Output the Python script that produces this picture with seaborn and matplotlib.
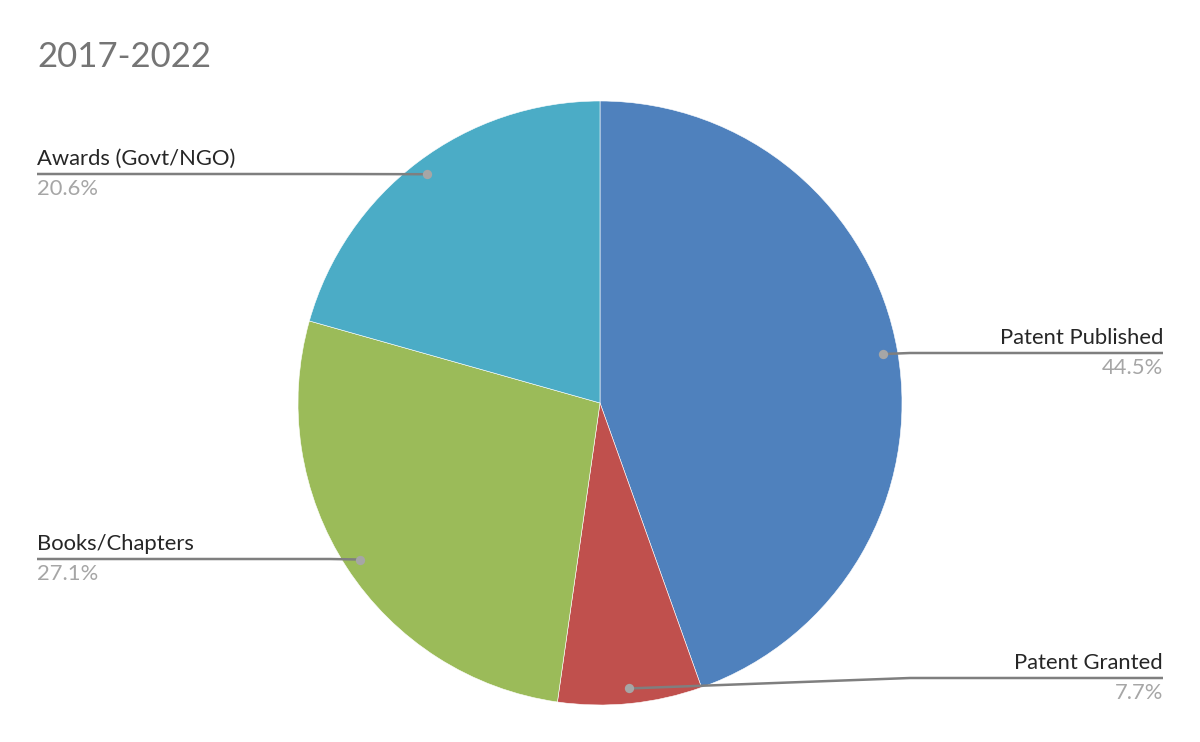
import numpy as np
import matplotlib.pyplot as plt
import seaborn as sns

# data
categories = ["Patent Published", "Patent Granted", "Books/Chapters", "Awards (Govt/NGO)"]
shares = [44.5, 7.7, 27.1, 20.6]
colors = ["#4F81BD", "#C0504D", "#9BBB59", "#4BACC6"]
chart_title = "2017-2022"

# label layout (pixel rows from top, side of the chart)
label_row = [353, 678, 559, 174]
label_side = ["right", "right", "left", "left"]

sns.set_theme(style="white")
plt.rcParams["font.family"] = ["Lato", "DejaVu Sans"]

W, H = 1200, 742
fig = plt.figure(figsize=(12, 7.42), dpi=100)
ax = fig.add_axes([0, 0, 1, 1])

cx, cy, r = 600, H - 403, 302
wedges, _ = ax.pie(shares, colors=colors, startangle=90, counterclock=False,
                   center=(cx, cy), radius=r,
                   wedgeprops=dict(linewidth=0.4, edgecolor="white"))
ax.set_xlim(0, W)
ax.set_ylim(0, H)
ax.set_aspect("equal")
ax.axis("off")

for w, name, val, row, side in zip(wedges, categories, shares, label_row, label_side):
    mid = np.deg2rad((w.theta1 + w.theta2) / 2)
    dx, dy = cx + 0.95 * r * np.cos(mid), cy + 0.95 * r * np.sin(mid)
    ly = H - row
    if side == "right":
        end, elbow, ha = 1163, 910, "right"
    else:
        end, elbow, ha = 37, 330, "left"
    ax.plot([dx, elbow, end], [dy, ly, ly], color="#7f7f7f", lw=1.8, zorder=3,
            solid_capstyle="butt")
    ax.scatter([dx], [dy], s=45, color="#a6a6a6", zorder=4, linewidths=0)
    ax.text(end, ly + 5, name, ha=ha, va="bottom", fontsize=15.8, color="#262626")
    ax.text(end, ly - 5, f"{val:.1f}%", ha=ha, va="top", fontsize=15.8, color="#a6a6a6")

ax.text(37, H - 57, chart_title, ha="left", va="center", fontsize=25, color="#757575")

fig.savefig("out.png", dpi=100, facecolor="white")
